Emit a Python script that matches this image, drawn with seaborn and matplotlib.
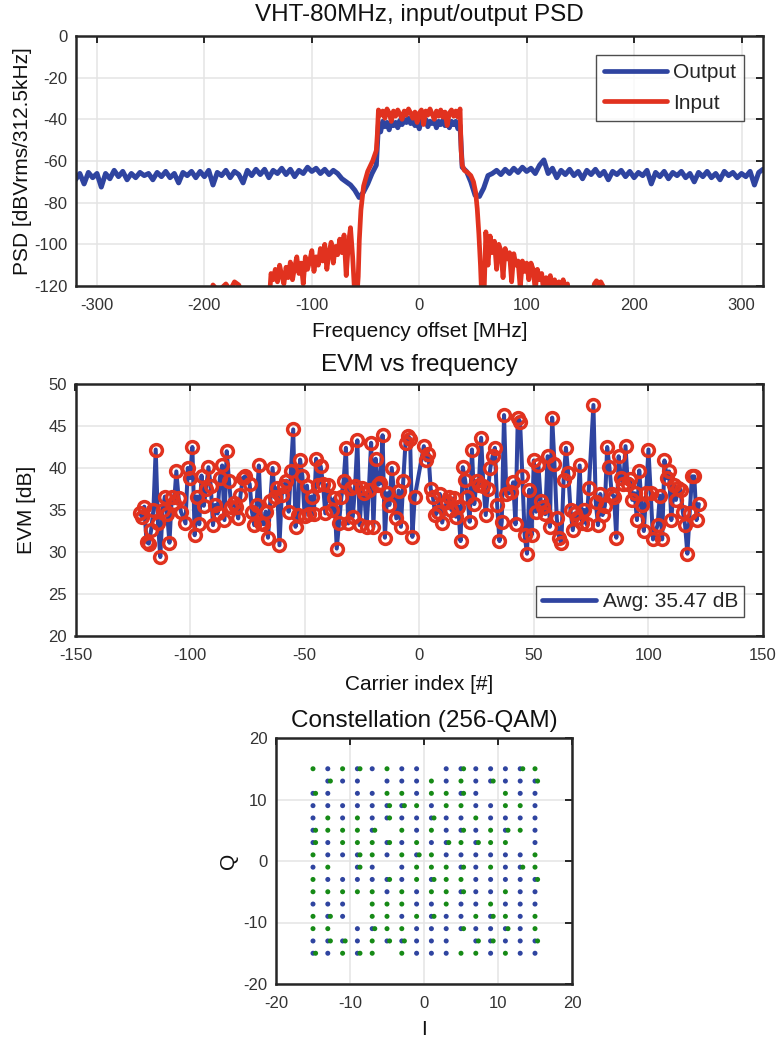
import numpy as np
import pandas as pd
import matplotlib
matplotlib.use("Agg")
import matplotlib.pyplot as plt
from matplotlib.lines import Line2D
import seaborn as sns

sns.set_theme(style="white")
plt.rcParams["font.family"] = ["Liberation Sans", "DejaVu Sans"]
plt.rcParams["axes.unicode_minus"] = False

BLUE = "#2f44a0"
RED = "#e1321f"
GREEN = "#168a16"
INK = "#262626"

# ---------------- PSD data ----------------
out_left_freq = np.arange(-320, -39, 4)
out_left_psd = [
    -69, -66, -71, -65.5, -68, -66, -72.5, -66, -68.5, -64.5,
    -67.5, -65, -69, -66, -68, -65.5, -67, -66, -69, -65.5,
    -67.5, -65, -68, -66, -70.5, -65.5, -67, -65, -68, -65,
    -67.5, -64.5, -71.5, -65.5, -67, -64.5, -68, -65, -66.5, -70.5,
    -64.5, -67, -64, -66.5, -64, -68, -64.5, -66, -63.5, -66.5,
    -64, -67.5, -64.5, -66, -63, -65, -63.5, -66, -64, -66.5,
    -64.5, -66, -68.5, -70, -71.5, -74, -77.5, -75, -71, -66,
    -62,
]
out_mid_freq = np.arange(-38, 39, 2)
out_mid_psd = [
    -42.5, -46, -41, -43.5, -41.5, -45, -41, -43, -41.5, -44,
    -40.5, -42.5, -40, -41.5, -39.5, -42, -40.5, -43, -41, -44.5,
    -40.5, -42, -40, -43.5, -41, -42, -40.5, -44, -41, -42.5,
    -40.5, -43, -41.5, -44, -41, -42.5, -41, -44.5, -43,
]
out_right_freq = np.arange(40, 321, 4)
out_right_psd = [
    -63, -65, -70, -76.5, -77, -73, -67, -66, -64.5, -66.5,
    -64, -66, -63.5, -65.5, -63, -65, -63.5, -66, -62, -59.5,
    -66, -63.5, -68, -64.5, -66.5, -64, -67, -65, -68.5, -64.5,
    -66.5, -64, -67, -65, -69, -65, -66.5, -64.5, -67.5, -65,
    -68, -65.5, -67, -64.5, -71, -65.5, -67.5, -65, -68.5, -65.5,
    -67, -65, -68, -66, -70, -65.5, -67.5, -65, -68, -66,
    -69, -65, -67, -65.5, -68, -66, -67.5, -65, -71.5, -65.5,
    -64,
]

in_far_left_freq = [-196, -192, -188, -184, -180, -176, -172, -168, -164, -160]
in_far_left_psd = [-130, -119.5, -122, -121, -119, -122, -118, -119.5, -125, -130]
in_left_freq = np.arange(-140, -59, 2)
in_left_psd = [
    -130, -114, -117, -112, -118, -110, -115, -119, -111, -116,
    -108.5, -117, -111, -106, -114, -109, -119, -106, -112, -108,
    -103, -113, -106, -110, -102, -108, -100, -112, -104, -99,
    -109, -101, -105, -97.5, -104, -95.5, -115, -100, -92, -106,
    -125,
]
in_lshoulder_freq = [-58, -57.4, -56.8, -55.8, -54.3, -51.8, -48, -43.4, -40, -39]
in_lshoulder_psd = [-130, -120, -115.5, -98, -83.5, -72, -65, -60, -55, -47]
in_mid_freq = np.arange(-38, 39, 2)
in_mid_psd = [
    -35.5, -38, -36, -39.5, -35, -37, -41, -36, -38.5, -35.5,
    -37.5, -40, -36, -38, -35, -37, -39.5, -36.5, -41.5, -37,
    -35.5, -42.5, -36, -38, -35, -37.5, -40, -36, -38.5, -35.5,
    -39, -36.5, -43, -37, -35.5, -38.5, -36, -39, -35,
]
in_rshoulder_freq = [39, 40, 42, 45, 48, 50.5, 52.5, 54, 55.5, 57, 58.5]
in_rshoulder_psd = [-55, -62, -64.5, -65.5, -67, -70, -75, -83, -95, -110, -130]
in_right_freq = np.arange(60, 141, 2)
in_right_psd = [
    -130, -94, -110, -96, -104, -98.5, -112, -100, -103, -116,
    -102, -107, -104, -118, -104.5, -110, -108, -121, -108, -113,
    -109, -117, -109, -112, -122, -112, -117, -114, -124, -116,
    -119, -115, -121, -117, -125, -118, -120, -117, -121, -119,
    -130,
]
in_far_right_freq = [160, 163, 165, 167, 169, 171, 174]
in_far_right_psd = [-130, -119, -117.5, -119, -118, -120, -130]

# ---------------- EVM data ----------------
pilots = {-103, -75, -39, -11, 11, 39, 75, 103}
carriers = [c for c in list(range(-122, -1)) + list(range(2, 123)) if c not in pilots]
evm_neg = [
    34.7, 34.2, 35.4, 31.2, 31.0, 32.6, 35.0, 42.2, 33.4, 29.4,
    35.0, 36.6, 34.5, 31.1, 36.6, 35.8, 39.6, 36.4, 34.8,
    33.4, 40.0, 38.8, 42.5, 32.0, 36.6, 33.3, 39.1, 35.5, 37.5,
    40.1, 37.9, 33.2, 35.6, 34.6, 38.8, 40.3, 33.8, 42.0, 38.4,
    35.3, 35.8, 35.4, 34.0, 36.8, 38.8, 39.0,
    38.1, 34.8, 33.2, 35.6, 40.3, 33.5, 33.3, 34.8, 31.7, 36.1,
    40.0, 36.5, 37.6, 30.8, 36.8, 37.9, 38.5, 34.8, 39.6, 44.6,
    33.0, 34.4, 41.0, 39.0, 34.3, 37.9, 34.5, 36.6, 34.5, 41.1,
    38.0, 40.2, 38.1, 34.6, 38.0,
    35.0, 36.4, 30.4, 33.4, 36.5, 38.5, 42.4, 33.4, 37.6, 34.2,
    37.8, 43.3, 33.2, 37.6, 37.0, 33.0, 37.4, 43.0, 33.0, 41.1,
    38.0, 38.2, 43.9, 31.7, 37.0, 35.6, 40.0,
    34.0, 37.3, 33.0, 38.4, 43.0, 43.8, 43.5, 31.8, 36.5,
]
evm_pos = [
    42.6, 40.9, 41.7, 37.5, 36.5, 34.4, 34.8, 36.9, 33.5,
    36.0, 36.6, 35.0, 36.4, 34.2, 35.4, 31.3, 40.1, 38.6, 36.6,
    33.6, 42.2, 35.7, 38.4, 38.0, 43.6, 37.9, 34.4, 37.5, 40.0,
    41.4, 42.4, 35.6, 31.3, 33.6, 46.3, 36.9,
    37.1, 38.3, 33.3, 46.0, 45.5, 39.0, 32.0, 29.8, 37.4, 32.0,
    40.9, 34.8, 40.3, 36.1, 35.3, 34.5, 41.4, 33.0, 46.0, 40.5,
    34.0, 31.7, 31.1, 38.6, 42.4, 39.4, 35.0, 32.6, 34.6, 34.0,
    40.3, 33.4, 35.0, 33.3, 37.6,
    47.5, 36.0, 33.2, 36.9, 34.4, 35.5, 42.5, 40.1, 36.9, 36.6,
    31.7, 41.4, 38.8, 38.1, 42.6, 38.1, 38.7, 36.2, 37.0, 33.8,
    39.7, 35.6, 32.5, 37.0, 42.2, 37.0, 31.5,
    33.2, 36.7, 31.5, 40.9, 38.8, 39.6, 33.8, 38.0, 36.2, 37.6,
    37.4, 34.8, 33.2, 29.8, 34.6, 39.0, 39.0, 33.8, 35.7,
]
evm_label = "Awg: 35.47 dB"

# ---------------- Constellation data ----------------
levels = [-15, -13, -11, -9, -7, -5, -3, -1, 1, 3, 5, 7, 9, 11, 13, 15]
# rows from Q=+15 down to Q=-15; b=stream 1, g=stream 2, x=both, .=none
const_rows = [
    "gbgxbgbb.bxbbbxg",
    ".xbb.bbbgbgbxbbx",
    "xb.bbggbggxb.gbb",
    "bbbbbxxgbggbbggb",
    "bgbgbxbbxbbgbbbb",
    "xgggx.gbgbxbgxgb",
    "xbgggxbgbxgxgg.b",
    "gbbxgbgxgbbbbbbg",
    "bg.xb.bgggxbgbxg",
    "gbbbbxbgxggbbbbx",
    "gggggbgbggxbbgbb",
    "bbb.gggbbgbbgbbb",
    "gxb.ggbgxbbgxgbg",
    "gg.bxggbbbxbbxbg",
    "bxxbgxxbbb.xxbbx",
    "xbgxg.gbbbggbgbb",
]

# ---------------- Build frames ----------------
out_df = pd.DataFrame({
    "f": np.concatenate([out_left_freq, out_mid_freq, out_right_freq]),
    "p": np.concatenate([out_left_psd, out_mid_psd, out_right_psd]),
})
in_df = pd.DataFrame({
    "f": np.concatenate([in_far_left_freq, in_left_freq, in_lshoulder_freq, in_mid_freq,
                         in_rshoulder_freq, in_right_freq, in_far_right_freq]),
    "p": np.concatenate([in_far_left_psd, in_left_psd, in_lshoulder_psd, in_mid_psd,
                         in_rshoulder_psd, in_right_psd, in_far_right_psd]),
})
evm_df = pd.DataFrame({"c": carriers, "e": evm_neg + evm_pos})

pts = []
for r, row in enumerate(const_rows):
    q = levels[::-1][r]
    for k, ch in enumerate(row):
        i = levels[k]
        if ch in "bx":
            pts.append((i, q, "s1"))
        if ch in "gx":
            pts.append((i + (0.35 if ch == "x" else 0.0), q, "s2"))
const_df = pd.DataFrame(pts, columns=["I", "Q", "s"])

# ---------------- Figure ----------------
W, H = 778, 1040
fig = plt.figure(figsize=(W / 100, H / 100), dpi=100)

def box(l, t, r, b):
    return [l / W, 1 - b / H, (r - l) / W, (b - t) / H]

ax1 = fig.add_axes(box(75.5, 36, 763, 286))
ax2 = fig.add_axes(box(75.5, 384, 763, 636))
ax3 = fig.add_axes(box(276, 738, 572, 984))

TITLE_FS = 17.5
LABEL_FS = 15
TICK_FS = 12

def style(ax):
    ax.set_facecolor("white")
    ax.grid(True, color="#e4e4e4", lw=1.1)
    ax.set_axisbelow(True)
    for s in ax.spines.values():
        s.set_color(INK)
        s.set_linewidth(1.8)
    ax.tick_params(direction="in", length=5, width=1.4, top=True, right=True,
                   colors=INK, labelsize=TICK_FS)
    ax.tick_params(axis="x", pad=9)
    ax.tick_params(axis="y", pad=6)
    for lab in ax.get_xticklabels() + ax.get_yticklabels():
        lab.set_color("#333333")

# PSD
sns.lineplot(data=out_df, x="f", y="p", ax=ax1, color=BLUE, lw=3.6, sort=False,
             estimator=None, label="Output")
sns.lineplot(data=in_df, x="f", y="p", ax=ax1, color=RED, lw=3.4, sort=False,
             estimator=None, label="Input")
ax1.set_xlim(-320, 320)
ax1.set_ylim(-120, 0)
ax1.set_xticks([-300, -200, -100, 0, 100, 200, 300])
ax1.set_yticks(np.arange(-120, 1, 20))
ax1.set_title("VHT-80MHz, input/output PSD", fontsize=TITLE_FS, color="#111111", pad=11)
ax1.set_xlabel("Frequency offset [MHz]", fontsize=LABEL_FS, color="#111111", labelpad=6)
ax1.set_ylabel("PSD [dBVrms/312.5kHz]", fontsize=LABEL_FS, color="#111111", labelpad=1)
style(ax1)
leg1 = ax1.legend(loc="upper right", fontsize=LABEL_FS, frameon=True, fancybox=False,
                  edgecolor="#222222", handlelength=3.0, borderpad=0.4,
                  labelspacing=0.55, handletextpad=0.3, borderaxespad=0.9)
leg1.get_frame().set_linewidth(1.0)
for h in leg1.get_lines():
    h.set_linewidth(3.4)

# EVM
sns.lineplot(data=evm_df, x="c", y="e", ax=ax2, color=BLUE, lw=2.9, sort=False,
             estimator=None, marker="o", markersize=8.5, markerfacecolor="none",
             markeredgecolor=RED, markeredgewidth=2.5, legend=False)
ax2.set_xlim(-150, 150)
ax2.set_ylim(20, 50)
ax2.set_xticks(np.arange(-150, 151, 50))
ax2.set_yticks(np.arange(20, 51, 5))
ax2.set_title("EVM vs frequency", fontsize=TITLE_FS, color="#111111", pad=9)
ax2.set_xlabel("Carrier index [#]", fontsize=LABEL_FS, color="#111111", labelpad=8)
ax2.set_ylabel("EVM [dB]", fontsize=LABEL_FS, color="#111111", labelpad=9)
style(ax2)
leg2 = ax2.legend(handles=[Line2D([], [], color=BLUE, lw=3.4)], labels=[evm_label],
                  loc="lower right", fontsize=LABEL_FS, frameon=True, fancybox=False,
                  edgecolor="#222222", handlelength=2.6, borderpad=0.3,
                  handletextpad=0.3, borderaxespad=0.9)
leg2.get_frame().set_linewidth(1.0)

# Constellation
sns.scatterplot(data=const_df, x="I", y="Q", hue="s", palette={"s1": BLUE, "s2": GREEN},
                ax=ax3, s=13, linewidth=0, legend=False)
ax3.set_xlim(-20, 20)
ax3.set_ylim(-20, 20)
ax3.set_xticks([-20, -10, 0, 10, 20])
ax3.set_yticks([-20, -10, 0, 10, 20])
ax3.set_title("Constellation (256-QAM)", fontsize=TITLE_FS, color="#111111", pad=8)
ax3.set_xlabel("I", fontsize=LABEL_FS, color="#111111", labelpad=6)
ax3.set_ylabel("Q", fontsize=LABEL_FS, color="#111111", labelpad=4)
style(ax3)

fig.savefig("out.png", dpi=100, facecolor="white")
